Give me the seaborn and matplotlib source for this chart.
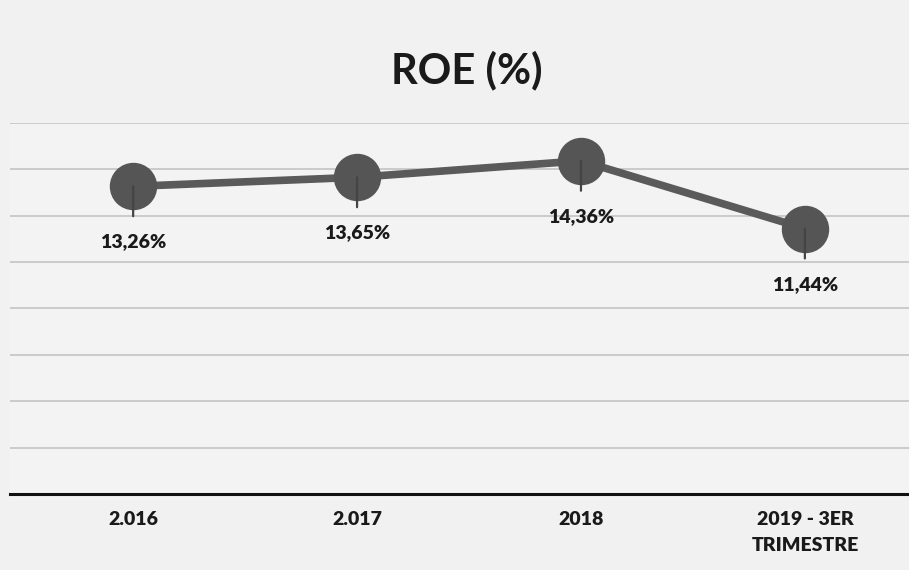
import numpy as np
import pandas as pd
import matplotlib
matplotlib.use("Agg")
import matplotlib.pyplot as plt
import seaborn as sns

# Datos
periodos = ["2.016", "2.017", "2018", "2019 - 3ER\nTRIMESTRE"]
roe = [13.26, 13.65, 14.36, 11.44]
etiquetas = ["13,26%", "13,65%", "14,36%", "11,44%"]

df = pd.DataFrame({"periodo": periodos, "roe": roe})

sns.set_style("white")
plt.rcParams["font.family"] = ["Lato", "DejaVu Sans"]

fig = plt.figure(figsize=(9.09, 5.70), dpi=100, facecolor="#f1f1f1")
ax = fig.add_axes([0.011, 0.1333, 0.989, 0.6513])
ax.set_facecolor("#f3f3f3")

# Linea con marcadores
sns.pointplot(data=df, x="periodo", y="roe", ax=ax, color="#5a5a5a",
              markers="o", markersize=30, linewidth=5.5, errorbar=None)
for ln in ax.lines:
    ln.set_markerfacecolor("#555555")
    ln.set_markeredgecolor("#555555")

# Etiquetas con linea guia
for i, v in enumerate(df.roe):
    ax.annotate(etiquetas[i], xy=(i, v), xytext=(0, -40), textcoords="offset points",
                ha="center", va="center", fontsize=14, fontweight="heavy", color="#1a1a1a",
                arrowprops=dict(arrowstyle="-", color="#444444", lw=1.6,
                                shrinkA=10, shrinkB=0, relpos=(0.5, 1.0)))

ax.set_ylim(0, 16)
ax.set_xlim(-0.55, 3.465)
ax.set_yticks(np.arange(2, 17, 2))
ax.yaxis.grid(True, color="#c4c4c4", linewidth=1.2)
ax.set_axisbelow(True)
ax.tick_params(axis="y", left=False, labelleft=False)
ax.tick_params(axis="x", bottom=False, pad=9)
for lab in ax.get_xticklabels():
    lab.set_fontweight("heavy")
    lab.set_fontsize(14)
    lab.set_color("#1a1a1a")
    lab.set_linespacing(1.6)
    lab.set_verticalalignment("top")

for s in ["top", "left", "right"]:
    ax.spines[s].set_visible(False)
ax.spines["bottom"].set_color("#111111")
ax.spines["bottom"].set_linewidth(2.2)

ax.set_xlabel("")
ax.set_ylabel("")

fig.text(0.513, 0.877, "ROE (%)", ha="center", va="center", fontsize=30,
         fontweight="bold", color="#1a1a1a")

fig.savefig("out.png", dpi=100, facecolor=fig.get_facecolor())
